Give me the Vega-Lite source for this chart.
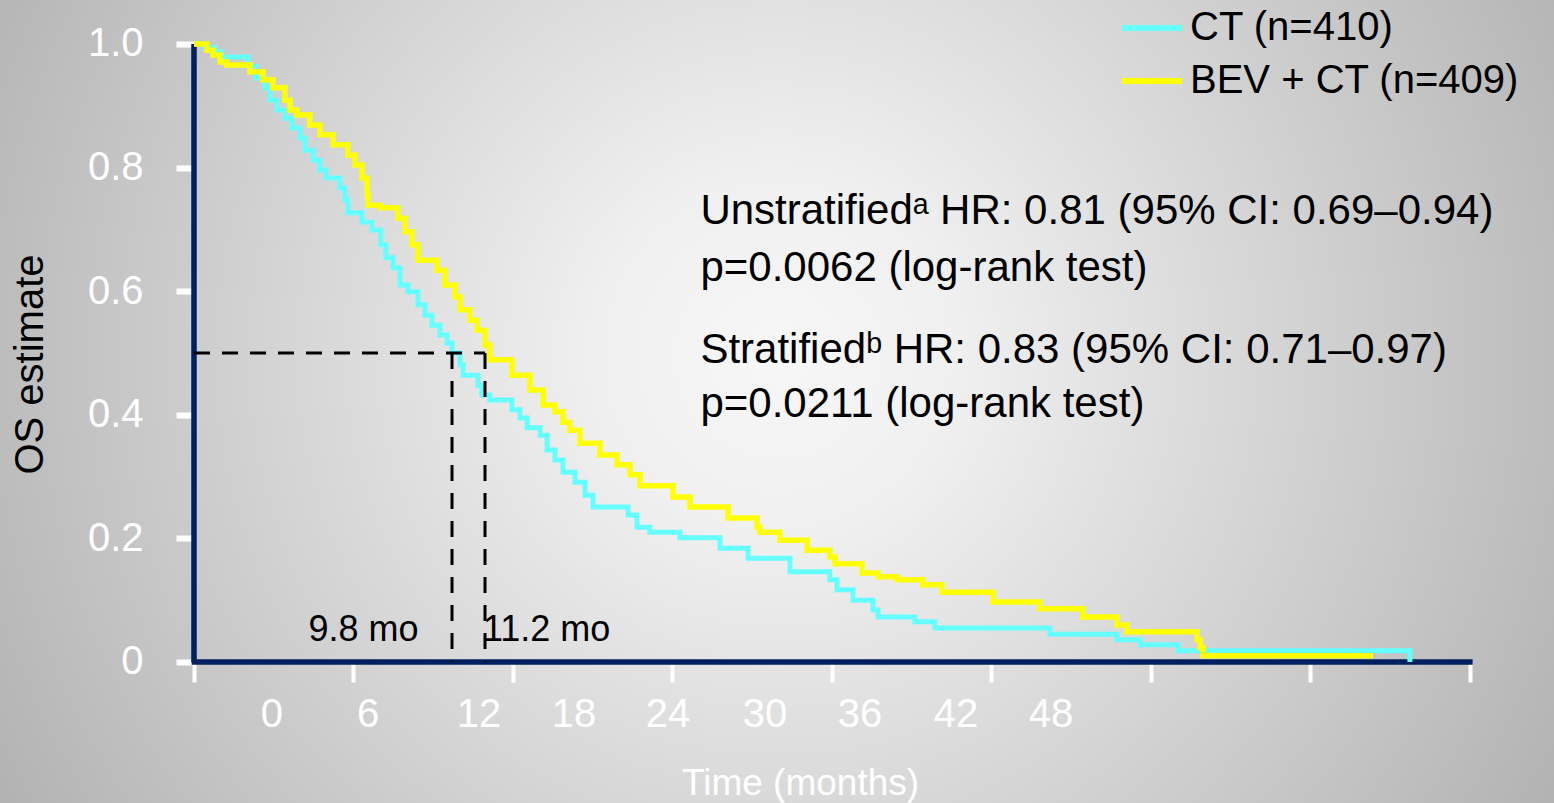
{
  "$schema": "https://vega.github.io/schema/vega-lite/v6.json",
  "width": 1554,
  "height": 803,
  "autosize": {"type": "none"},
  "padding": 0,
  "background": "#c4c4c4",
  "config": {"view": {"stroke": null}, "font": "Liberation Sans"},
  "view": {
    "stroke": null,
    "fill": {
      "gradient": "radial",
      "x1": 0.5, "y1": 0.47, "r1": 0,
      "x2": 0.5, "y2": 0.47, "r2": 0.76,
      "stops": [
        {"offset": 0, "color": "#f7f7f7"},
        {"offset": 0.15, "color": "#f0f0f0"},
        {"offset": 1, "color": "#9a9a9a"}
      ]
    }
  },
  "datasets": {
    "km": [
      {"arm": "CT (n=410)", "time": 0, "surv": 1.0},
      {"arm": "CT (n=410)", "time": 0.41, "surv": 0.994},
      {"arm": "CT (n=410)", "time": 0.79, "surv": 0.987},
      {"arm": "CT (n=410)", "time": 1.05, "surv": 0.979},
      {"arm": "CT (n=410)", "time": 2.03, "surv": 0.964},
      {"arm": "CT (n=410)", "time": 2.33, "surv": 0.945},
      {"arm": "CT (n=410)", "time": 2.67, "surv": 0.929},
      {"arm": "CT (n=410)", "time": 2.86, "surv": 0.909},
      {"arm": "CT (n=410)", "time": 3.12, "surv": 0.893},
      {"arm": "CT (n=410)", "time": 3.42, "surv": 0.880},
      {"arm": "CT (n=410)", "time": 3.69, "surv": 0.864},
      {"arm": "CT (n=410)", "time": 3.99, "surv": 0.848},
      {"arm": "CT (n=410)", "time": 4.18, "surv": 0.828},
      {"arm": "CT (n=410)", "time": 4.48, "surv": 0.812},
      {"arm": "CT (n=410)", "time": 4.74, "surv": 0.796},
      {"arm": "CT (n=410)", "time": 4.97, "surv": 0.783},
      {"arm": "CT (n=410)", "time": 5.49, "surv": 0.767},
      {"arm": "CT (n=410)", "time": 5.68, "surv": 0.748},
      {"arm": "CT (n=410)", "time": 5.79, "surv": 0.727},
      {"arm": "CT (n=410)", "time": 6.32, "surv": 0.712},
      {"arm": "CT (n=410)", "time": 6.70, "surv": 0.699},
      {"arm": "CT (n=410)", "time": 7.03, "surv": 0.675},
      {"arm": "CT (n=410)", "time": 7.22, "surv": 0.654},
      {"arm": "CT (n=410)", "time": 7.49, "surv": 0.638},
      {"arm": "CT (n=410)", "time": 7.75, "surv": 0.610},
      {"arm": "CT (n=410)", "time": 8.05, "surv": 0.599},
      {"arm": "CT (n=410)", "time": 8.43, "surv": 0.578},
      {"arm": "CT (n=410)", "time": 8.69, "surv": 0.561},
      {"arm": "CT (n=410)", "time": 8.95, "surv": 0.545},
      {"arm": "CT (n=410)", "time": 9.25, "surv": 0.529},
      {"arm": "CT (n=410)", "time": 9.52, "surv": 0.516},
      {"arm": "CT (n=410)", "time": 9.71, "surv": 0.500},
      {"arm": "CT (n=410)", "time": 10.01, "surv": 0.481},
      {"arm": "CT (n=410)", "time": 10.12, "surv": 0.464},
      {"arm": "CT (n=410)", "time": 10.68, "surv": 0.448},
      {"arm": "CT (n=410)", "time": 10.83, "surv": 0.432},
      {"arm": "CT (n=410)", "time": 11.13, "surv": 0.424},
      {"arm": "CT (n=410)", "time": 11.96, "surv": 0.408},
      {"arm": "CT (n=410)", "time": 12.26, "surv": 0.395},
      {"arm": "CT (n=410)", "time": 12.53, "surv": 0.379},
      {"arm": "CT (n=410)", "time": 13.02, "surv": 0.367},
      {"arm": "CT (n=410)", "time": 13.28, "surv": 0.343},
      {"arm": "CT (n=410)", "time": 13.58, "surv": 0.327},
      {"arm": "CT (n=410)", "time": 13.88, "surv": 0.307},
      {"arm": "CT (n=410)", "time": 14.33, "surv": 0.291},
      {"arm": "CT (n=410)", "time": 14.71, "surv": 0.270},
      {"arm": "CT (n=410)", "time": 15.01, "surv": 0.251},
      {"arm": "CT (n=410)", "time": 16.33, "surv": 0.238},
      {"arm": "CT (n=410)", "time": 16.66, "surv": 0.218},
      {"arm": "CT (n=410)", "time": 17.15, "surv": 0.210},
      {"arm": "CT (n=410)", "time": 18.28, "surv": 0.201},
      {"arm": "CT (n=410)", "time": 19.79, "surv": 0.184},
      {"arm": "CT (n=410)", "time": 20.84, "surv": 0.168},
      {"arm": "CT (n=410)", "time": 22.42, "surv": 0.146},
      {"arm": "CT (n=410)", "time": 23.92, "surv": 0.133},
      {"arm": "CT (n=410)", "time": 24.19, "surv": 0.117},
      {"arm": "CT (n=410)", "time": 24.79, "surv": 0.100},
      {"arm": "CT (n=410)", "time": 25.54, "surv": 0.084},
      {"arm": "CT (n=410)", "time": 25.73, "surv": 0.073},
      {"arm": "CT (n=410)", "time": 27.12, "surv": 0.065},
      {"arm": "CT (n=410)", "time": 27.87, "surv": 0.055},
      {"arm": "CT (n=410)", "time": 32.20, "surv": 0.045},
      {"arm": "CT (n=410)", "time": 34.72, "surv": 0.036},
      {"arm": "CT (n=410)", "time": 35.59, "surv": 0.028},
      {"arm": "CT (n=410)", "time": 37.02, "surv": 0.018},
      {"arm": "CT (n=410)", "time": 45.74, "surv": 0.0},
      {"arm": "BEV + CT (n=409)", "time": 0, "surv": 1.0},
      {"arm": "BEV + CT (n=409)", "time": 0.49, "surv": 0.990},
      {"arm": "BEV + CT (n=409)", "time": 0.71, "surv": 0.982},
      {"arm": "BEV + CT (n=409)", "time": 0.98, "surv": 0.971},
      {"arm": "BEV + CT (n=409)", "time": 1.24, "surv": 0.966},
      {"arm": "BEV + CT (n=409)", "time": 2.11, "surv": 0.955},
      {"arm": "BEV + CT (n=409)", "time": 2.60, "surv": 0.942},
      {"arm": "BEV + CT (n=409)", "time": 2.97, "surv": 0.929},
      {"arm": "BEV + CT (n=409)", "time": 3.42, "surv": 0.909},
      {"arm": "BEV + CT (n=409)", "time": 3.61, "surv": 0.893},
      {"arm": "BEV + CT (n=409)", "time": 3.87, "surv": 0.885},
      {"arm": "BEV + CT (n=409)", "time": 4.36, "surv": 0.869},
      {"arm": "BEV + CT (n=409)", "time": 4.74, "surv": 0.853},
      {"arm": "BEV + CT (n=409)", "time": 5.23, "surv": 0.837},
      {"arm": "BEV + CT (n=409)", "time": 5.79, "surv": 0.820},
      {"arm": "BEV + CT (n=409)", "time": 6.06, "surv": 0.804},
      {"arm": "BEV + CT (n=409)", "time": 6.32, "surv": 0.783},
      {"arm": "BEV + CT (n=409)", "time": 6.51, "surv": 0.756},
      {"arm": "BEV + CT (n=409)", "time": 6.55, "surv": 0.739},
      {"arm": "BEV + CT (n=409)", "time": 7.00, "surv": 0.735},
      {"arm": "BEV + CT (n=409)", "time": 7.67, "surv": 0.718},
      {"arm": "BEV + CT (n=409)", "time": 7.94, "surv": 0.696},
      {"arm": "BEV + CT (n=409)", "time": 8.20, "surv": 0.675},
      {"arm": "BEV + CT (n=409)", "time": 8.43, "surv": 0.650},
      {"arm": "BEV + CT (n=409)", "time": 9.14, "surv": 0.634},
      {"arm": "BEV + CT (n=409)", "time": 9.44, "surv": 0.610},
      {"arm": "BEV + CT (n=409)", "time": 9.82, "surv": 0.591},
      {"arm": "BEV + CT (n=409)", "time": 10.01, "surv": 0.570},
      {"arm": "BEV + CT (n=409)", "time": 10.38, "surv": 0.553},
      {"arm": "BEV + CT (n=409)", "time": 10.65, "surv": 0.537},
      {"arm": "BEV + CT (n=409)", "time": 10.95, "surv": 0.513},
      {"arm": "BEV + CT (n=409)", "time": 11.13, "surv": 0.489},
      {"arm": "BEV + CT (n=409)", "time": 11.96, "surv": 0.464},
      {"arm": "BEV + CT (n=409)", "time": 12.64, "surv": 0.440},
      {"arm": "BEV + CT (n=409)", "time": 13.13, "surv": 0.416},
      {"arm": "BEV + CT (n=409)", "time": 13.58, "surv": 0.405},
      {"arm": "BEV + CT (n=409)", "time": 13.88, "surv": 0.388},
      {"arm": "BEV + CT (n=409)", "time": 14.14, "surv": 0.375},
      {"arm": "BEV + CT (n=409)", "time": 14.52, "surv": 0.354},
      {"arm": "BEV + CT (n=409)", "time": 15.27, "surv": 0.335},
      {"arm": "BEV + CT (n=409)", "time": 15.91, "surv": 0.319},
      {"arm": "BEV + CT (n=409)", "time": 16.40, "surv": 0.303},
      {"arm": "BEV + CT (n=409)", "time": 16.78, "surv": 0.285},
      {"arm": "BEV + CT (n=409)", "time": 18.02, "surv": 0.267},
      {"arm": "BEV + CT (n=409)", "time": 18.66, "surv": 0.251},
      {"arm": "BEV + CT (n=409)", "time": 20.09, "surv": 0.233},
      {"arm": "BEV + CT (n=409)", "time": 21.18, "surv": 0.218},
      {"arm": "BEV + CT (n=409)", "time": 21.29, "surv": 0.210},
      {"arm": "BEV + CT (n=409)", "time": 22.04, "surv": 0.197},
      {"arm": "BEV + CT (n=409)", "time": 23.06, "surv": 0.181},
      {"arm": "BEV + CT (n=409)", "time": 23.92, "surv": 0.170},
      {"arm": "BEV + CT (n=409)", "time": 24.11, "surv": 0.159},
      {"arm": "BEV + CT (n=409)", "time": 25.13, "surv": 0.144},
      {"arm": "BEV + CT (n=409)", "time": 25.73, "surv": 0.138},
      {"arm": "BEV + CT (n=409)", "time": 26.45, "surv": 0.133},
      {"arm": "BEV + CT (n=409)", "time": 27.42, "surv": 0.125},
      {"arm": "BEV + CT (n=409)", "time": 28.14, "surv": 0.113},
      {"arm": "BEV + CT (n=409)", "time": 30.06, "surv": 0.097},
      {"arm": "BEV + CT (n=409)", "time": 31.82, "surv": 0.086},
      {"arm": "BEV + CT (n=409)", "time": 33.44, "surv": 0.073},
      {"arm": "BEV + CT (n=409)", "time": 34.72, "surv": 0.060},
      {"arm": "BEV + CT (n=409)", "time": 35.10, "surv": 0.049},
      {"arm": "BEV + CT (n=409)", "time": 37.73, "surv": 0.036},
      {"arm": "BEV + CT (n=409)", "time": 37.85, "surv": 0.023},
      {"arm": "BEV + CT (n=409)", "time": 37.96, "surv": 0.010},
      {"arm": "BEV + CT (n=409)", "time": 44.35, "surv": 0.010}
    ],
    "dashes": [
      {"time": 0, "time2": 10.947, "surv": 0.5, "surv2": 0.5},
      {"time": 9.706, "time2": 9.706, "surv": 0.5, "surv2": 0},
      {"time": 10.947, "time2": 10.947, "surv": 0.5, "surv2": 0}
    ],
    "axislines": [
      {"time": -0.09, "time2": 48.1, "surv": 0, "surv2": 0},
      {"time": 0, "time2": 0, "surv": 0, "surv2": 1.0}
    ],
    "notes": [
      {"time": 19.05, "surv": 0.7087, "label": "Unstratifiedᵃ HR: 0.81 (95% CI: 0.69–0.94)"},
      {"time": 19.05, "surv": 0.6165, "label": "p=0.0062 (log-rank test)"},
      {"time": 19.05, "surv": 0.4838, "label": "Stratifiedᵇ HR: 0.83 (95% CI: 0.71–0.97)"},
      {"time": 19.05, "surv": 0.3964, "label": "p=0.0211 (log-rank test)"}
    ],
    "medL": [{"time": 8.45, "surv": 0.0518, "label": "9.8 mo"}],
    "medR": [{"time": 10.87, "surv": 0.0518, "label": "11.2 mo"}],
    "ticklabels": [
      {"time": 2.934, "surv": -0.0858, "label": "0"},
      {"time": 6.546, "surv": -0.0858, "label": "6"},
      {"time": 10.721, "surv": -0.0858, "label": "12"},
      {"time": 14.295, "surv": -0.0858, "label": "18"},
      {"time": 17.831, "surv": -0.0858, "label": "24"},
      {"time": 21.480, "surv": -0.0858, "label": "30"},
      {"time": 25.053, "surv": -0.0858, "label": "36"},
      {"time": 28.665, "surv": -0.0858, "label": "42"},
      {"time": 32.239, "surv": -0.0858, "label": "48"}
    ]
  },
  "layer": [
    {
      "data": {"name": "axislines"},
      "mark": {"type": "rule", "color": "#002060", "strokeWidth": 5.5},
      "encoding": {
        "x": {"field": "time", "type": "quantitative", "scale": {"domain": [-7.298, 51.161], "nice": false, "zero": false},
          "axis": {"orient": "bottom", "offset": -141, "values": [0, 6, 12, 18, 24, 30, 36, 42, 48], "labels": false, "domain": false, "grid": false,
            "tickColor": "#ffffff", "tickWidth": 4, "tickSize": 20,
            "title": "Time (months)", "titleColor": "#ffffff", "titleFontSize": 37, "titleFontWeight": "normal",
            "titleX": 800, "titleY": 121, "titleBaseline": "middle", "titleAlign": "center"}},
        "x2": {"field": "time2"},
        "y": {"field": "surv", "type": "quantitative", "scale": {"domain": [-0.22816, 1.07119], "nice": false, "zero": false},
          "axis": {"orient": "left", "offset": -194, "values": [0, 0.2, 0.4, 0.6, 0.8, 1.0], "domain": false, "grid": false,
            "tickColor": "#ffffff", "tickSize": 18, "tickWidth": 6, "labelColor": "#ffffff", "labelFontSize": 40, "labelPadding": 33,
            "labelExpr": "datum.value == 0 ? '0' : format(datum.value, '.1f')",
            "title": "OS estimate", "titleFontSize": 40, "titleColor": "#000000", "titleFontWeight": "normal",
            "titleX": -164, "titleY": 364, "titleAngle": -90, "titleAlign": "center", "titleBaseline": "middle"}},
        "y2": {"field": "surv2"}
      }
    },
    {
      "data": {"name": "km"},
      "transform": [{"filter": "datum.arm == 'CT (n=410)'"}],
      "mark": {"type": "line", "interpolate": "step-after", "strokeWidth": 5},
      "encoding": {
        "x": {"field": "time", "type": "quantitative"},
        "y": {"field": "surv", "type": "quantitative"},
        "color": {"field": "arm", "type": "nominal",
          "scale": {"domain": ["CT (n=410)", "BEV + CT (n=409)"], "range": ["#66ffff", "#ffff00"]},
          "legend": {"orient": "none", "legendX": 1119, "legendY": -5, "title": null, "padding": 0,
            "symbolType": "stroke", "symbolSize": 3600, "symbolStrokeWidth": 6, "labelLimit": 0,
            "labelFontSize": 40, "labelColor": "#000000", "labelOffset": 5, "rowPadding": -12}}
      }
    },
    {
      "data": {"name": "km"},
      "transform": [{"filter": "datum.arm != 'CT (n=410)'"}],
      "mark": {"type": "line", "interpolate": "step-after", "strokeWidth": 5.5},
      "encoding": {
        "x": {"field": "time", "type": "quantitative"},
        "y": {"field": "surv", "type": "quantitative"},
        "color": {"field": "arm", "type": "nominal"}
      }
    },
    {
      "data": {"name": "dashes"},
      "mark": {"type": "rule", "color": "#000000", "strokeWidth": 3, "strokeDash": [16, 12]},
      "encoding": {
        "x": {"field": "time", "type": "quantitative"},
        "x2": {"field": "time2"},
        "y": {"field": "surv", "type": "quantitative"},
        "y2": {"field": "surv2"}
      }
    },
    {
      "data": {"name": "notes"},
      "mark": {"type": "text", "align": "left", "baseline": "alphabetic", "fontSize": 42, "color": "#000000"},
      "encoding": {
        "x": {"field": "time", "type": "quantitative"},
        "y": {"field": "surv", "type": "quantitative"},
        "text": {"field": "label"}
      }
    },
    {
      "data": {"name": "medL"},
      "mark": {"type": "text", "align": "right", "baseline": "middle", "fontSize": 36, "color": "#000000"},
      "encoding": {
        "x": {"field": "time", "type": "quantitative"},
        "y": {"field": "surv", "type": "quantitative"},
        "text": {"field": "label"}
      }
    },
    {
      "data": {"name": "medR"},
      "mark": {"type": "text", "align": "left", "baseline": "middle", "fontSize": 36, "color": "#000000"},
      "encoding": {
        "x": {"field": "time", "type": "quantitative"},
        "y": {"field": "surv", "type": "quantitative"},
        "text": {"field": "label"}
      }
    },
    {
      "data": {"name": "ticklabels"},
      "mark": {"type": "text", "align": "center", "baseline": "middle", "fontSize": 40, "color": "#ffffff"},
      "encoding": {
        "x": {"field": "time", "type": "quantitative"},
        "y": {"field": "surv", "type": "quantitative"},
        "text": {"field": "label"}
      }
    }
  ]
}
